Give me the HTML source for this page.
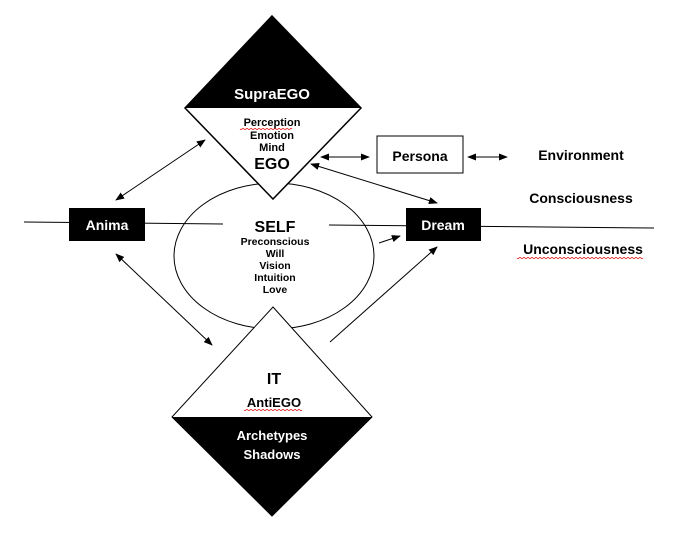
<!DOCTYPE html>
<html><head><style>
html,body{margin:0;padding:0;background:#fff;}
svg text{font-family:"Liberation Sans",sans-serif;font-weight:bold;}
</style></head><body>
<svg width="676" height="531" viewBox="0 0 676 531" xmlns="http://www.w3.org/2000/svg">
<defs>
<marker id="a" viewBox="0 0 10 10" refX="9" refY="5" markerWidth="9" markerHeight="9" orient="auto-start-reverse" markerUnits="userSpaceOnUse"><path d="M0,1 L10,5 L0,9 z" fill="#000"/></marker>
</defs>
<!-- horizontal lines -->
<line x1="24" y1="222" x2="223" y2="224" stroke="#000" stroke-width="1"/>
<line x1="329" y1="225" x2="654" y2="228" stroke="#000" stroke-width="1"/>
<!-- ellipse -->
<ellipse cx="274" cy="256" rx="100" ry="73" fill="none" stroke="#000" stroke-width="1"/>
<!-- top diamond -->
<polygon points="272,16 361,108 273,199 185,108" fill="#fff" stroke="#000" stroke-width="1.5"/>
<polygon points="272,16 361,108 185,108" fill="#000"/>
<!-- bottom diamond -->
<polygon points="273,307 372,417 272,516 172,417" fill="#fff" stroke="#000" stroke-width="1"/>
<polygon points="172,417 372,417 272,516" fill="#000"/>
<!-- boxes -->
<rect x="69" y="208" width="76" height="33" fill="#000"/>
<rect x="406" y="208" width="75" height="33" fill="#000"/>
<rect x="377" y="136" width="86" height="37" fill="#fff" stroke="#000" stroke-width="1"/>
<!-- arrows -->
<g stroke="#000" stroke-width="1" fill="none">
<line x1="116" y1="200" x2="205" y2="140" marker-start="url(#a)" marker-end="url(#a)"/>
<line x1="116" y1="254" x2="212" y2="345" marker-start="url(#a)" marker-end="url(#a)"/>
<line x1="321" y1="157" x2="369" y2="157" marker-start="url(#a)" marker-end="url(#a)"/>
<line x1="468" y1="157" x2="507" y2="157" marker-start="url(#a)" marker-end="url(#a)"/>
<line x1="311" y1="164" x2="437" y2="203" marker-start="url(#a)" marker-end="url(#a)"/>
<line x1="379" y1="243" x2="400" y2="236" marker-end="url(#a)"/>
<line x1="330" y1="342" x2="437" y2="247" marker-end="url(#a)"/>
</g>
<!-- text -->
<text x="272" y="99" font-size="15" fill="#fff" text-anchor="middle">SupraEGO</text>
<text x="272" y="126" font-size="11" text-anchor="middle">Perception</text>
<text x="272" y="139" font-size="11" text-anchor="middle">Emotion</text>
<text x="272" y="151" font-size="11" text-anchor="middle">Mind</text>
<text x="272" y="169" font-size="16" text-anchor="middle">EGO</text>
<text x="420" y="161" font-size="14" text-anchor="middle">Persona</text>
<text x="581" y="160" font-size="14" text-anchor="middle">Environment</text>
<text x="581" y="203" font-size="14" text-anchor="middle">Consciousness</text>
<text x="583" y="254" font-size="14" text-anchor="middle">Unconsciousness</text>
<text x="107" y="230" font-size="14" fill="#fff" text-anchor="middle">Anima</text>
<text x="443" y="230" font-size="14" fill="#fff" text-anchor="middle">Dream</text>
<text x="275" y="232" font-size="16" text-anchor="middle">SELF</text>
<text x="275" y="245" font-size="10.5" text-anchor="middle">Preconscious</text>
<text x="275" y="257" font-size="10.5" text-anchor="middle">Will</text>
<text x="275" y="269" font-size="10.5" text-anchor="middle">Vision</text>
<text x="275" y="281" font-size="10.5" text-anchor="middle">Intuition</text>
<text x="275" y="293" font-size="10.5" text-anchor="middle">Love</text>
<text x="274" y="384" font-size="16" text-anchor="middle">IT</text>
<text x="274" y="407" font-size="13" text-anchor="middle">AntiEGO</text>
<text x="272" y="440" font-size="13" fill="#fff" text-anchor="middle">Archetypes</text>
<text x="272" y="459" font-size="13" fill="#fff" text-anchor="middle">Shadows</text>
<!-- red squiggle underlines -->
<g stroke="#d00" stroke-width="0.8" fill="none">
<path d="M240,129 q1,1 2,0 t2,0 t2,0 t2,0 t2,0 t2,0 t2,0 t2,0 t2,0 t2,0 t2,0 t2,0 t2,0 t2,0 t2,0 t2,0 t2,0 t2,0 t2,0 t2,0 t2,0 t2,0 t2,0 t2,0 t2,0 t2,0"/>
<path d="M517,258 q1,1 2,0 t2,0 t2,0 t2,0 t2,0 t2,0 t2,0 t2,0 t2,0 t2,0 t2,0 t2,0 t2,0 t2,0 t2,0 t2,0 t2,0 t2,0 t2,0 t2,0 t2,0 t2,0 t2,0 t2,0 t2,0 t2,0 t2,0 t2,0 t2,0 t2,0 t2,0 t2,0 t2,0 t2,0 t2,0 t2,0 t2,0 t2,0 t2,0 t2,0 t2,0 t2,0 t2,0 t2,0 t2,0 t2,0 t2,0 t2,0 t2,0 t2,0 t2,0 t2,0 t2,0 t2,0 t2,0 t2,0 t2,0 t2,0 t2,0 t2,0 t2,0 t2,0 t2,0"/>
<path d="M244,410 q1,1 2,0 t2,0 t2,0 t2,0 t2,0 t2,0 t2,0 t2,0 t2,0 t2,0 t2,0 t2,0 t2,0 t2,0 t2,0 t2,0 t2,0 t2,0 t2,0 t2,0 t2,0 t2,0 t2,0 t2,0 t2,0 t2,0 t2,0 t2,0 t2,0"/>
</g>
</svg>
</body></html>
